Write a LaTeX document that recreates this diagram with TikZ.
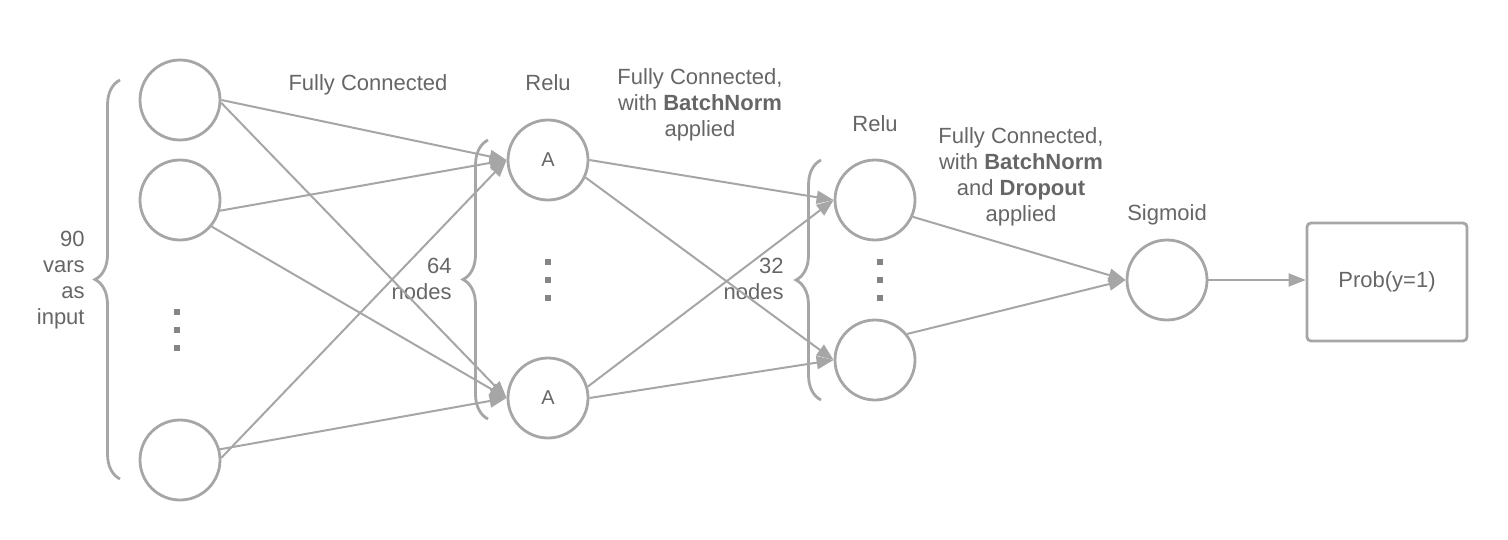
\documentclass[tikz,border=0pt]{standalone}
\usepackage{fontspec}
\setmainfont{Liberation Sans}
\usetikzlibrary{arrows.meta,decorations.pathreplacing}
\definecolor{edgegray}{HTML}{A6A6A6}
\definecolor{textgray}{HTML}{666666}
\definecolor{dotgray}{HTML}{858585}
\begin{document}
\begin{tikzpicture}[x=0.5pt, y=-0.5pt,
  every node/.style = {font=\fontsize{11}{13}\selectfont, text=textgray},
  neuron/.style = {circle, draw=edgegray, line width=1.4pt, minimum size=40pt,
    inner sep=0pt, font=\fontsize{10}{12}\selectfont},
  conn/.style = {draw=edgegray, line width=1pt, -{Triangle[length=8.5pt,width=6.5pt]}},
  layerbrace/.style = {draw=edgegray, line width=1.4pt, decorate,
    decoration={brace, amplitude=12.5pt}},
  note/.style = {align=center},
  count/.style = {align=right, anchor=east, inner sep=0pt}]
  \useasboundingbox (0,0) rectangle (1508,540);

  \node[neuron] (in1) at (180,100) {};
  \node[neuron] (in2) at (180,200) {};
  \node[neuron] (inN) at (180,460) {};
  \node[neuron] (h1a) at (548,160) {A};
  \node[neuron] (h1b) at (548,398) {A};
  \node[neuron] (h2a) at (875,200) {};
  \node[neuron] (h2b) at (875,360) {};
  \node[neuron] (out) at (1167,280) {};
  \node[draw=edgegray, line width=1.4pt, rounded corners=2pt, minimum width=80pt,
    minimum height=59pt] (prob) at (1387,282) {Prob(y=1)};

  \node at (368,85) {Fully Connected};
  \node at (548,83) {Relu};
  \node[note] at (700,105) {Fully Connected,\\with \textbf{BatchNorm}\\applied};
  \node at (875,124) {Relu};
  \node[note] at (1021,177) {Fully Connected,\\with \textbf{BatchNorm}\\and \textbf{Dropout}\\applied};
  \node at (1167,215) {Sigmoid};
  \node[count] at (85,280) {90\\vars\\as\\input};
  \node[count] at (452,279) {64\\nodes};
  \node[count] at (784,279) {32\\nodes};

  \foreach \x/\y in {177/312, 548/262, 880/262}
    \foreach \d in {0,18,36}
      \fill[dotgray] (\x-3,\y+\d-3) rectangle (\x+3,\y+\d+3);

  \draw[layerbrace] (120,479) -- (120,80);
  \draw[layerbrace] (488,419) -- (488,140);
  \draw[layerbrace] (821,400) -- (821,160);

  \foreach \s/\a/\t in {in1/0/h1a, in1/-4/h1b, in2/-15/h1a, in2/-40/h1b,
      inN/3/h1a, inN/15/h1b, h1a/0/h2a, h1a/-25/h2b, h1b/16/h2a, h1b/0/h2b,
      h2a/-24/out, h2b/39/out}
    \draw[conn] (\s.\a) -- (\t.west);
  \draw[conn] (out.east) -- (out.east -| prob.west);

\end{tikzpicture}
\end{document}
